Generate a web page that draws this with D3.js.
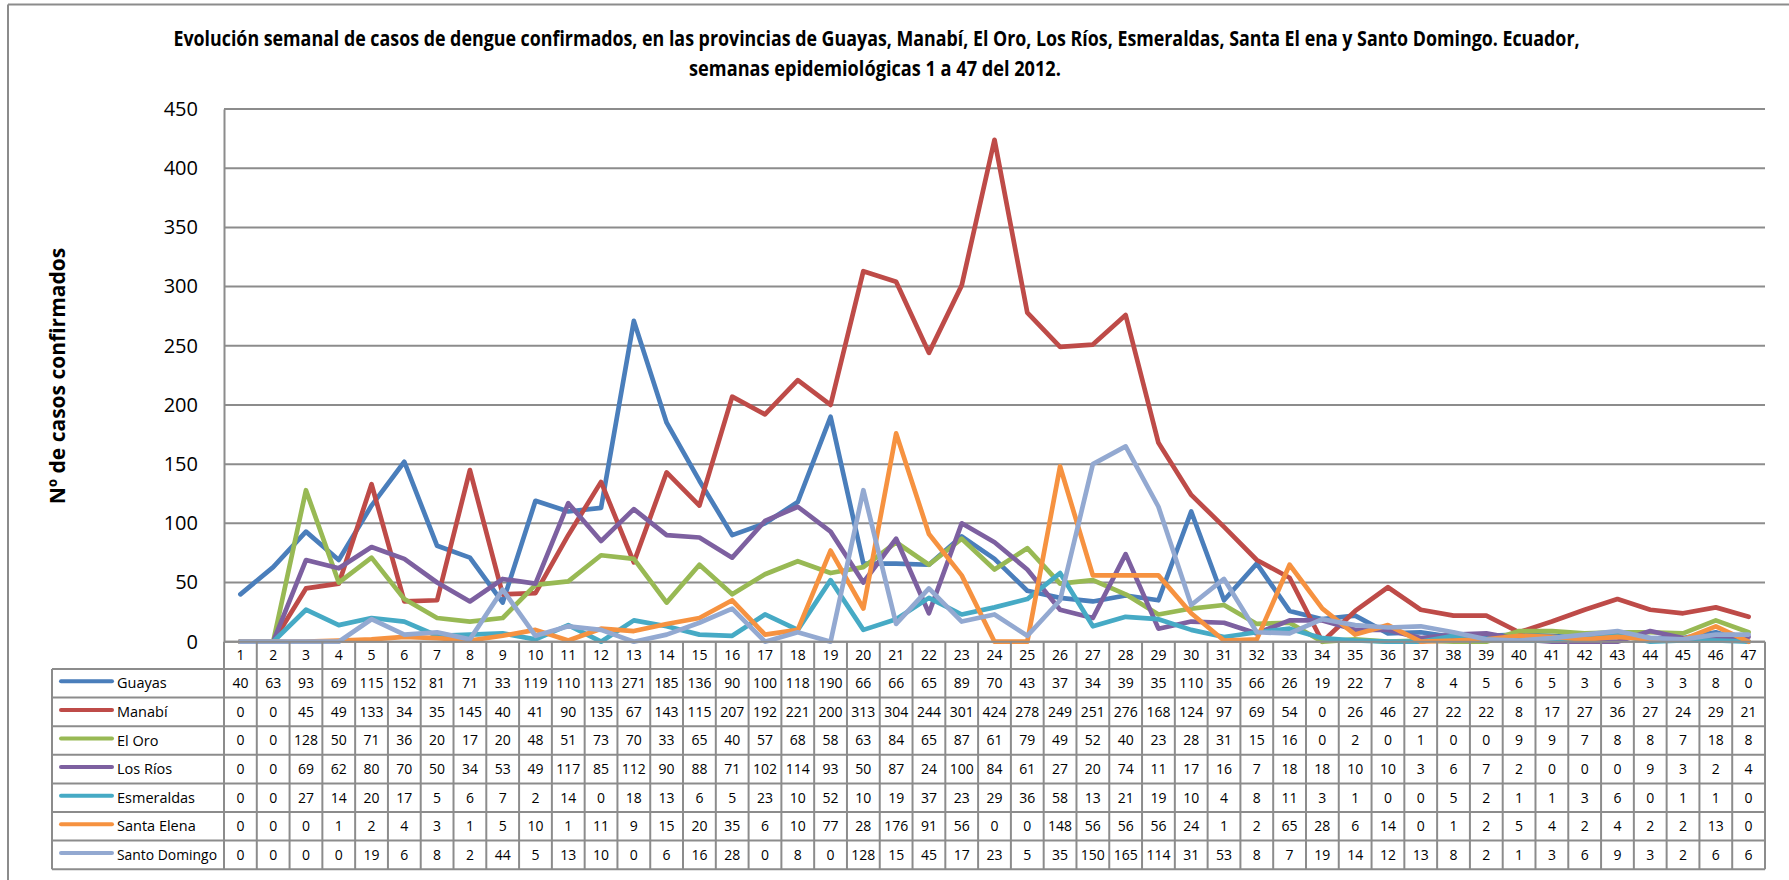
<!DOCTYPE html>
<html>
<head>
<meta charset="utf-8">
<script src="https://cdn.jsdelivr.net/npm/d3@7"></script>
<style>
  html, body { margin: 0; padding: 0; background: #fff; }
  svg { display: block; }
</style>
</head>
<body>
<svg id="chart" width="1789" height="880"></svg>
<script>
const weeks = ["1","2","3","4","5","6","7","8","9","10","11","12","13","14","15","16","17","18","19","20","21","22","23","24","25","26","27","28","29","30","31","32","33","34","35","36","37","38","39","40","41","42","43","44","45","46","47"];
const yTicks = [0, 50, 100, 150, 200, 250, 300, 350, 400, 450];
const seriesNames = ["Guayas", "Manabí", "El Oro", "Los Ríos", "Esmeraldas", "Santa Elena", "Santo Domingo"];
const seriesColors = ["#4a7ebb", "#be4b48", "#98b954", "#7d60a0", "#46aac5", "#f69240", "#93a9d1"];
const guayas = [40,63,93,69,115,152,81,71,33,119,110,113,271,185,136,90,100,118,190,66,66,65,89,70,43,37,34,39,35,110,35,66,26,19,22,7,8,4,5,6,5,3,6,3,3,8,0];
const manabi = [0,0,45,49,133,34,35,145,40,41,90,135,67,143,115,207,192,221,200,313,304,244,301,424,278,249,251,276,168,124,97,69,54,0,26,46,27,22,22,8,17,27,36,27,24,29,21];
const elOro = [0,0,128,50,71,36,20,17,20,48,51,73,70,33,65,40,57,68,58,63,84,65,87,61,79,49,52,40,23,28,31,15,16,0,2,0,1,0,0,9,9,7,8,8,7,18,8];
const losRios = [0,0,69,62,80,70,50,34,53,49,117,85,112,90,88,71,102,114,93,50,87,24,100,84,61,27,20,74,11,17,16,7,18,18,10,10,3,6,7,2,0,0,0,9,3,2,4];
const esmeraldas = [0,0,27,14,20,17,5,6,7,2,14,0,18,13,6,5,23,10,52,10,19,37,23,29,36,58,13,21,19,10,4,8,11,3,1,0,0,5,2,1,1,3,6,0,1,1,0];
const santaElena = [0,0,0,1,2,4,3,1,5,10,1,11,9,15,20,35,6,10,77,28,176,91,56,0,0,148,56,56,56,24,1,2,65,28,6,14,0,1,2,5,4,2,4,2,2,13,0];
const santoDomingo = [0,0,0,0,19,6,8,2,44,5,13,10,0,6,16,28,0,8,0,128,15,45,17,23,5,35,150,165,114,31,53,8,7,19,14,12,13,8,2,1,3,6,9,3,2,6,6];
const seriesValues = [guayas, manabi, elOro, losRios, esmeraldas, santaElena, santoDomingo];

const svg = d3.select("#chart");
const gridColor = "#8c8c8c";
const font = "'Open Sans', 'Liberation Sans', sans-serif";

// layout
const plotLeft = 224, plotRight = 1765, plotTop = 109, plotBottom = 641.7;
const tableTop = 641.7, headerBottom = 669, rowH = 28.6, legendLeft = 52;

const x = d3.scaleBand().domain(weeks).range([plotLeft, plotRight]).paddingInner(0).paddingOuter(0);
const y = d3.scaleLinear().domain([0, 450]).range([plotBottom, plotTop]);

// outer frame
svg.append("line").attr("x1", 8).attr("x2", 1789).attr("y1", 4.5).attr("y2", 4.5).attr("stroke", gridColor).attr("stroke-width", 2);
svg.append("line").attr("x1", 8).attr("x2", 8).attr("y1", 4.5).attr("y2", 880).attr("stroke", gridColor).attr("stroke-width", 2);

// title (horizontally condensed to the reference's width)
function condensedText(cx, cy, str, targetWidth, size) {
  const g = svg.append("g");
  const t = g.append("text").attr("x", 0).attr("y", 0)
    .attr("font-family", font).attr("font-weight", "bold").attr("font-size", size)
    .attr("fill", "#000").attr("text-anchor", "middle").text(str);
  const w = t.node().getComputedTextLength();
  g.attr("transform", `translate(${cx},${cy}) scale(${targetWidth / w},1)`);
}
condensedText(876.5, 46, "Evolución semanal de casos de dengue confirmados, en las provincias de Guayas, Manabí, El Oro, Los Ríos, Esmeraldas, Santa El ena y Santo Domingo. Ecuador,", 1407, 21);
condensedText(875, 76, "semanas epidemiológicas 1 a 47 del 2012.", 372, 21);

// gridlines
svg.append("g").selectAll("line").data(yTicks).join("line")
  .attr("x1", plotLeft).attr("x2", plotRight)
  .attr("y1", d => y(d)).attr("y2", d => y(d))
  .attr("stroke", gridColor).attr("stroke-width", 2);

// y axis
const yAxis = d3.axisLeft(y).tickValues(yTicks).tickSize(0).tickPadding(26);
const ya = svg.append("g").attr("transform", `translate(${plotLeft},0)`).call(yAxis);
ya.select(".domain").attr("stroke", gridColor).attr("stroke-width", 2);
ya.selectAll("text").attr("font-family", font).attr("font-size", 20).attr("fill", "#000");

// y axis title
svg.append("text")
  .attr("transform", `translate(65,376) rotate(-90)`)
  .attr("text-anchor", "middle")
  .attr("font-family", font).attr("font-weight", "bold").attr("font-size", 21)
  .attr("fill", "#000")
  .text("Nº de casos  confirmados");

// lines
const line = d3.line()
  .x((d, i) => x(weeks[i]) + x.bandwidth() / 2)
  .y(d => y(d));
svg.append("g").selectAll("path").data(seriesValues).join("path")
  .attr("d", d => line(d))
  .attr("fill", "none")
  .attr("stroke", (d, i) => seriesColors[i])
  .attr("stroke-width", 4.7)
  .attr("stroke-linejoin", "round")
  .attr("stroke-linecap", "round");

// data table
const table = svg.append("g").attr("font-family", font).attr("font-size", 14).attr("fill", "#000");
const rowTop = i => headerBottom + i * rowH;
const tableBottom = rowTop(seriesNames.length);

// header cells
table.selectAll("text.hdr").data(weeks).join("text").attr("class", "hdr")
  .attr("x", d => x(d) + x.bandwidth() / 2)
  .attr("y", (tableTop + headerBottom) / 2)
  .attr("dy", "0.35em").attr("text-anchor", "middle")
  .text(d => d);

// value cells
seriesValues.forEach((vals, si) => {
  table.append("g").selectAll("text").data(vals).join("text")
    .attr("x", (d, i) => x(weeks[i]) + x.bandwidth() / 2)
    .attr("y", rowTop(si) + rowH / 2)
    .attr("dy", "0.35em").attr("text-anchor", "middle")
    .text(d => d);
});

// legend cells
const leg = table.append("g");
seriesNames.forEach((name, si) => {
  const cy = rowTop(si) + rowH / 2;
  leg.append("line").attr("x1", 61).attr("x2", 112).attr("y1", cy - 2).attr("y2", cy - 2)
    .attr("stroke", seriesColors[si]).attr("stroke-width", 4).attr("stroke-linecap", "round");
  const t = leg.append("text").attr("x", 117).attr("y", cy).attr("dy", "0.35em").attr("font-size", 14.5).text(name);
  const w = t.node().getComputedTextLength();
  if (w > 100) t.attr("textLength", 100).attr("lengthAdjust", "spacingAndGlyphs");
});

// table grid
const grid = svg.append("g").attr("stroke", gridColor).attr("stroke-width", 2);
grid.append("line").attr("x1", plotLeft).attr("x2", plotRight).attr("y1", tableTop).attr("y2", tableTop);
for (let i = 0; i <= seriesNames.length; i++) {
  grid.append("line").attr("x1", legendLeft).attr("x2", plotRight).attr("y1", rowTop(i)).attr("y2", rowTop(i));
}
grid.append("line").attr("x1", legendLeft).attr("x2", legendLeft).attr("y1", headerBottom).attr("y2", tableBottom);
weeks.forEach(w => {
  grid.append("line").attr("x1", x(w)).attr("x2", x(w)).attr("y1", tableTop).attr("y2", tableBottom);
});
grid.append("line").attr("x1", plotRight).attr("x2", plotRight).attr("y1", tableTop).attr("y2", tableBottom);
</script>
</body>
</html>
